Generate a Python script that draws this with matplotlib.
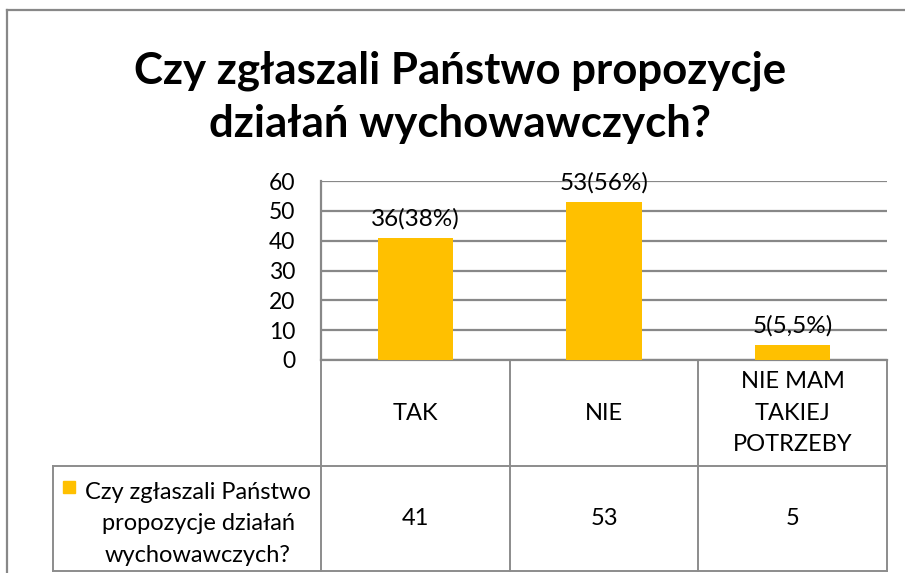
import matplotlib
matplotlib.use("Agg")
import matplotlib.pyplot as plt
import matplotlib.transforms as mtransforms
from matplotlib.lines import Line2D
from matplotlib.patches import Rectangle

plt.rcParams['font.family'] = ['Lato', 'DejaVu Sans']

title = "Czy zgłaszali Państwo propozycje\ndziałań wychowawczych?"
categories = ["TAK", "NIE", "NIE MAM\nTAKIEJ\nPOTRZEBY"]
values = [41, 53, 5]
bar_labels = ["36(38%)", "53(56%)", "5(5,5%)"]
series_name = "Czy zgłaszali Państwo\npropozycje działań\nwychowawczych?"

BAR = '#FFC000'
GRID = '#888888'
W, H = 905, 573

fig = plt.figure(figsize=(W / 100, H / 100), dpi=100)

# plot area in pixels: x 321..887, y 181..360
ax = fig.add_axes([321 / W, 1 - 360 / H, 566 / W, 179 / H])
x = list(range(len(categories)))
ax.bar(x, values, width=0.4, color=BAR, zorder=3)
ax.set_xlim(-0.5, len(categories) - 0.5)
ax.set_ylim(0, 60)
ax.set_yticks(range(0, 61, 10))
ax.set_xticks([])
ax.tick_params(axis='y', length=0, labelsize=16.5, pad=18.5)
ax.grid(axis='y', color=GRID, linewidth=1.6, zorder=0)
for s in ['top', 'right']:
    ax.spines[s].set_visible(False)
ax.spines['left'].set_color(GRID)
ax.spines['left'].set_linewidth(1.6)
ax.spines['bottom'].set_color(GRID)
ax.spines['bottom'].set_linewidth(1.6)

for xi, v, lab in zip(x, values, bar_labels):
    ax.annotate(lab, (xi, v), xytext=(0, 6), textcoords='offset points',
                ha='center', va='bottom', fontsize=17.5)

# data table below the axes (x in data units, y in axes fraction)
tr = mtransforms.blended_transform_factory(ax.transData, ax.transAxes)
px_per_unit = 566 / 3

def ay(py):
    return (360 - py) / 179

def dx(px):
    return -0.5 + (px - 321) / px_per_unit

hdr_bot = ay(466)
tbl_bot = ay(571)
left_x = dx(53)
TBL = '#8c8c8c'
lw = 1.4

def tline(xs, ys):
    ax.add_line(Line2D(xs, ys, transform=tr, color=TBL, linewidth=lw, clip_on=False))

n = len(categories)
for b in [i - 0.5 for i in range(n + 1)]:
    tline([b, b], [0, tbl_bot])
tline([left_x, left_x], [hdr_bot, tbl_bot])
tline([left_x, n - 0.5], [hdr_bot, hdr_bot])
tline([left_x, n - 0.5], [tbl_bot, tbl_bot])

for xi, cat, v in zip(x, categories, values):
    ax.text(xi, (0 + hdr_bot) / 2, cat, transform=tr, ha='center', va='center',
            fontsize=17, linespacing=1.6, clip_on=False)
    ax.text(xi, (hdr_bot + tbl_bot) / 2, str(v), transform=tr, ha='center',
            va='center', fontsize=17, clip_on=False)

ax.text(dx(198), ay(524), series_name, transform=tr, ha='center',
        va='center', fontsize=17, linespacing=1.6, clip_on=False)
ax.add_patch(Rectangle((dx(63), ay(493)), 12 / px_per_unit, 12 / 179, transform=tr,
                       color=BAR, clip_on=False))

# chart area frame
fig.add_artist(Line2D([7 / W, 7 / W], [0, 1 - 10 / H], color=GRID, linewidth=1.6))
fig.add_artist(Line2D([7 / W, 1], [1 - 10 / H, 1 - 10 / H], color=GRID, linewidth=1.6))

fig.text(460 / W, 1 - 97 / H, title, ha='center', va='center', fontsize=31.5,
         fontweight='bold', linespacing=1.38)

fig.savefig('out.png', dpi=100)
